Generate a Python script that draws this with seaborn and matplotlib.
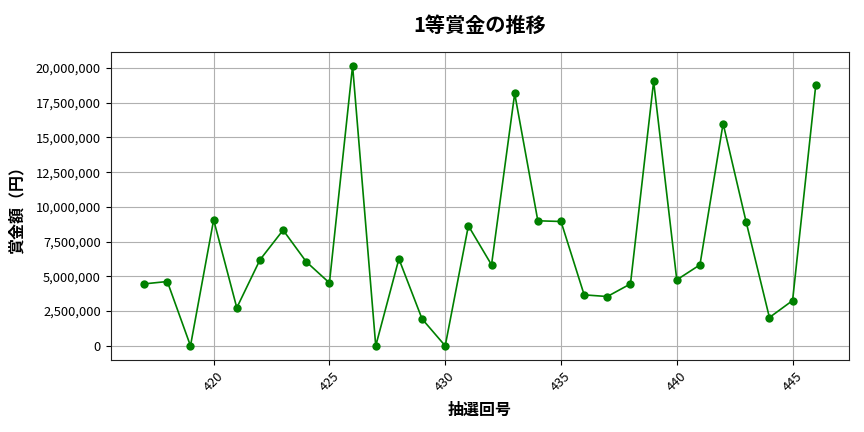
import matplotlib
matplotlib.use("Agg")
import matplotlib.pyplot as plt
import matplotlib.ticker as mticker
import seaborn as sns
import pandas as pd

draws = list(range(417, 447))
prizes = [4460000, 4630000, 0, 9070000, 2740000, 6190000, 8330000, 6050000, 4530000, 20150000,
          0, 6260000, 1940000, 0, 8640000, 5830000, 18160000, 9000000, 8950000, 3670000,
          3550000, 4460000, 19030000, 4750000, 5830000, 16000000, 8880000, 2040000, 3260000, 18740000]

title = "1等賞金の推移"
xlabel = "抽選回号"
ylabel = "賞金額（円）"

sns.set_style("ticks")
plt.rcParams['font.family'] = ['Noto Sans CJK JP', 'DejaVu Sans']
plt.rcParams.update({"text.color": "black", "axes.labelcolor": "black",
                     "xtick.color": "black", "ytick.color": "black"})

df = pd.DataFrame({"draw": draws, "prize": prizes})

fig, ax = plt.subplots(figsize=(8.64, 4.32), dpi=100)
sns.lineplot(data=df, x="draw", y="prize", marker="o", color="green",
             markersize=6, markeredgewidth=0, linewidth=1.2, ax=ax)
ax.grid(True, color="#b0b0b0", linewidth=0.8)
ax.set_title(title, fontsize=14.5, fontweight="bold", pad=14)
ax.set_xlabel(xlabel, fontsize=11.5, fontweight="bold", labelpad=6)
ax.set_ylabel(ylabel, fontsize=11.5, fontweight="bold", labelpad=8)
ax.yaxis.set_major_formatter(mticker.FuncFormatter(lambda v, p: f"{int(v):,}"))
ax.xaxis.set_major_locator(mticker.MultipleLocator(5))
ax.tick_params(labelsize=9.3, colors="black")
plt.setp(ax.get_xticklabels(), rotation=45)
for s in ax.spines.values():
    s.set_color("#222222")
fig.subplots_adjust(left=0.128, right=0.983, top=0.88, bottom=0.167)
fig.savefig("out.png", dpi=100)
